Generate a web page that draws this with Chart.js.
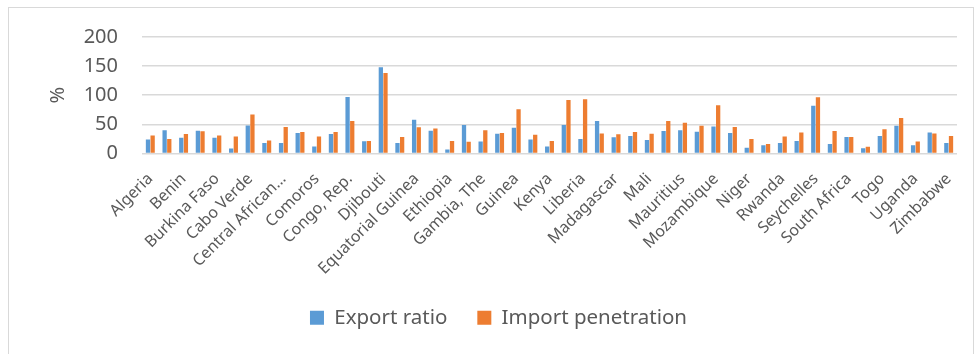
<!DOCTYPE html>
<html lang="en">
<head>
  <meta charset="UTF-8" />
  <title>Export ratio and import penetration</title>
  <script src="https://cdn.jsdelivr.net/npm/chart.js"></script>
  <style>
    body {
      margin: 0;
      padding: 0;
      background: #fff;
      font-family: "Noto Sans", sans-serif;
    }
    #wrap {
      position: relative;
      width: 980px;
      height: 354px;
      overflow: hidden;
    }
    #frame {
      position: absolute;
      left: 8px;
      top: 7px;
      width: 966px;
      height: 400px;
      border: 1px solid #d9d9d9;
      box-sizing: border-box;
    }
    #chart {
      position: absolute;
      left: 0;
      top: 0;
    }
  </style>
</head>
<body>
  <div id="wrap">
    <div id="frame"></div>
    <canvas id="chart" width="980" height="354"></canvas>
  </div>

  <script>
    // Countries (only every other one gets a tick label)
    const countries = [
      'Algeria', 'Angola', 'Benin', 'Botswana', 'Burkina Faso', 'Burundi',
      'Cabo Verde', 'Cameroon', 'Central African Republic', 'Chad', 'Comoros',
      'Congo, Dem. Rep.', 'Congo, Rep.', "Cote d'Ivoire", 'Djibouti', 'Egypt',
      'Equatorial Guinea', 'Eswatini', 'Ethiopia', 'Gabon', 'Gambia, The', 'Ghana',
      'Guinea', 'Guinea-Bissau', 'Kenya', 'Lesotho', 'Liberia', 'Libya',
      'Madagascar', 'Malawi', 'Mali', 'Mauritania', 'Mauritius', 'Morocco',
      'Mozambique', 'Namibia', 'Niger', 'Nigeria', 'Rwanda', 'Senegal',
      'Seychelles', 'Sierra Leone', 'South Africa', 'Tanzania', 'Togo', 'Tunisia',
      'Uganda', 'Zambia', 'Zimbabwe'
    ];

    // Export ratio (%)
    const exportRatio = [
      24, 40, 27, 39, 27, 8.5, 48, 18, 18, 35, 12,
      33.5, 97, 21, 148, 18, 58, 39, 7, 49, 20.5, 34,
      44, 24, 12, 49, 25, 56, 28, 30, 23, 38.5, 40, 37.5,
      46.5, 35, 10, 14, 18, 21.5, 82, 16.5, 28.5, 9, 30, 47.5,
      14, 36, 18
    ];

    // Import penetration (%)
    const importPenetration = [
      31, 25, 33.5, 38, 31, 29, 67, 22.5, 45.5, 37, 29,
      37, 56, 21.5, 138, 28.5, 45, 43, 21.5, 20, 40, 35,
      76, 32, 21.5, 92, 93, 34.5, 33, 37, 34, 56, 53, 47.5,
      83, 45.5, 25, 16.5, 29, 36, 96.5, 38.5, 28.5, 11.5, 41.5, 61,
      20.5, 34.5, 30
    ];

    const yTicks = [0, 50, 100, 150, 200];

    const textColor = '#595959';
    const gridColor = '#d9d9d9';

    new Chart(document.getElementById('chart'), {
      type: 'bar',
      data: {
        labels: countries,
        datasets: [
          {
            label: 'Export ratio',
            data: exportRatio,
            backgroundColor: '#5b9bd5',
            categoryPercentage: 0.56,
            barPercentage: 0.92
          },
          {
            label: 'Import penetration',
            data: importPenetration,
            backgroundColor: '#ed7d31',
            categoryPercentage: 0.56,
            barPercentage: 0.92
          }
        ]
      },
      options: {
        responsive: false,
        animation: false,
        devicePixelRatio: 1,
        layout: {
          padding: { top: 37, right: 23, bottom: 16, left: 40 }
        },
        plugins: {
          legend: {
            position: 'bottom',
            labels: {
              boxWidth: 14,
              boxHeight: 14,
              padding: 30,
              color: textColor,
              font: { family: 'Noto Sans', size: 20.5 }
            }
          },
          tooltip: { enabled: false }
        },
        scales: {
          x: {
            grid: { display: false },
            border: { display: false },
            afterFit: (scale) => { scale.height = 124; },
            ticks: {
              autoSkip: false,
              minRotation: 45,
              maxRotation: 45,
              padding: 8,
              color: textColor,
              font: { family: 'Noto Sans', size: 16 },
              callback: function (value, index) {
                if (index % 2 !== 0) return '';
                const name = countries[index];
                return name.length > 16 && name.startsWith('Central') ? 'Central African…' : name;
              }
            }
          },
          y: {
            min: 0,
            max: 200,
            afterFit: (scale) => { scale.width = 102; },
            afterBuildTicks: (scale) => {
              scale.ticks = yTicks.map(v => ({ value: v }));
            },
            grid: {
              color: gridColor,
              lineWidth: 1.6,
              drawTicks: false
            },
            border: { display: false },
            ticks: {
              padding: 24,
              color: textColor,
              font: { family: 'Noto Sans', size: 20 }
            },
            title: {
              display: true,
              text: '%',
              color: textColor,
              padding: 6,
              font: { family: 'Noto Sans', size: 20 }
            }
          }
        }
      }
    });
  </script>
</body>
</html>
